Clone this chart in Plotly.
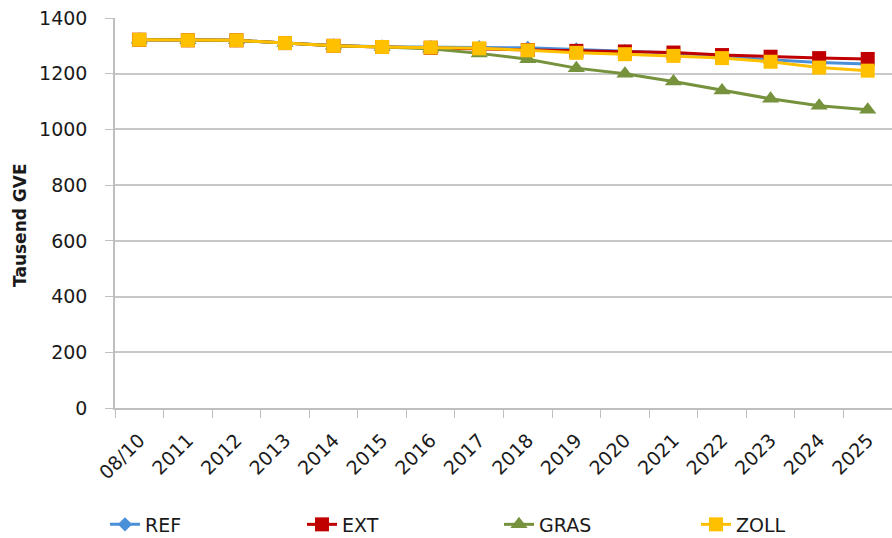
import plotly.graph_objects as go

# Categories (years) and livestock units in thousand GVE per scenario
years = ["08/10", "2011", "2012", "2013", "2014", "2015", "2016", "2017",
         "2018", "2019", "2020", "2021", "2022", "2023", "2024", "2025"]
ref = [1322, 1320, 1320, 1310, 1301, 1297, 1295, 1295, 1293, 1287, 1281, 1274, 1264, 1250, 1240, 1235]
ext = [1322, 1320, 1320, 1310, 1300, 1296, 1293, 1288, 1285, 1282, 1280, 1276, 1267, 1261, 1256, 1253]
gras = [1322, 1320, 1320, 1310, 1300, 1296, 1290, 1273, 1252, 1220, 1200, 1172, 1140, 1110, 1085, 1071]
zoll = [1322, 1320, 1320, 1310, 1300, 1296, 1294, 1291, 1284, 1275, 1270, 1264, 1256, 1243, 1222, 1211]

y_ticks = [0, 200, 400, 600, 800, 1000, 1200, 1400]

series = [
    ("REF", ref, "#4A90D9", "diamond", 11),
    ("EXT", ext, "#C00000", "square", 14),
    ("GRAS", gras, "#76923C", "triangle-up", 15),
    ("ZOLL", zoll, "#FFC000", "square", 14),
]

fig = go.Figure()
for name, vals, color, sym, size in series:
    fig.add_trace(go.Scatter(
        x=years, y=vals, name=name, mode="lines+markers",
        line=dict(color=color, width=3),
        marker=dict(symbol=sym, size=size, color=color),
    ))

font_family = "'DejaVu Sans', sans-serif"
fig.update_layout(
    width=892, height=538,
    margin=dict(l=115, r=0, t=18, b=130, autoexpand=False),
    paper_bgcolor="white", plot_bgcolor="white",
    font=dict(family=font_family, size=19, color="#1a1a1a"),
    showlegend=True,
    legend=dict(
        orientation="h", x=-0.0129, xanchor="left", y=-0.25, yanchor="top",
        entrywidth=152, entrywidthmode="pixels",
        font=dict(size=19, color="#1a1a1a"),
    ),
    xaxis=dict(
        type="category", tickangle=-45, tickson="boundaries",
        ticks="outside", ticklen=8, tickcolor="#BFBFBF",
        showline=True, linecolor="#BFBFBF", linewidth=1.5,
        showgrid=False, zeroline=False, automargin=False,
        range=[-0.5, 15.5], ticklabelstandoff=12,
        tickfont=dict(size=19),
    ),
    yaxis=dict(
        range=[0, 1400], tickvals=y_ticks,
        ticks="outside", ticklen=8, tickcolor="#BFBFBF",
        showline=True, linecolor="#BFBFBF", linewidth=1.5,
        showgrid=True, gridcolor="#C8C8C8", gridwidth=1.5,
        zeroline=False, ticklabelstandoff=14, automargin=False,
        tickfont=dict(size=19),
    ),
    annotations=[dict(
        text="<b>Tausend GVE</b>", textangle=-90,
        xref="paper", yref="paper", x=-95 / 777, y=(408 - 225) / 390,
        xanchor="center", yanchor="middle", showarrow=False,
        font=dict(size=17, color="#1a1a1a"),
    )],
)

fig.write_html("out.html")
